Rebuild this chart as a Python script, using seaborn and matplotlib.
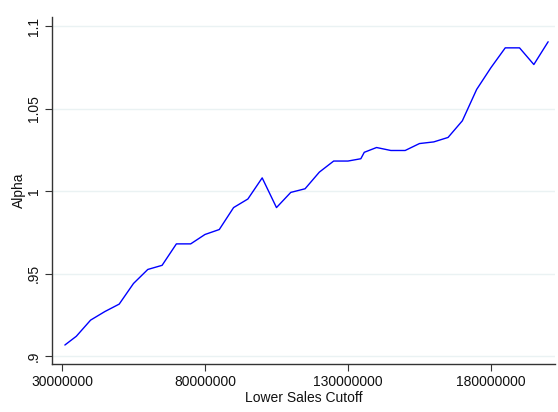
import matplotlib
matplotlib.use("Agg")
import matplotlib.pyplot as plt
import seaborn as sns
import pandas as pd
from matplotlib.ticker import FixedLocator, FixedFormatter

# Lower sales cutoff (millions) and estimated alpha
cutoff_m = [31, 35, 40, 45, 50, 55, 60, 65, 70, 75, 80, 85, 90, 95, 100,
            105, 110, 115, 120, 125, 130, 134.5, 135.7, 140, 145, 150, 155,
            160, 165, 170, 175, 180, 185, 190, 195, 200]
alpha = [0.9067, 0.912, 0.9218, 0.927, 0.9315, 0.944, 0.9525, 0.955, 0.968,
         0.968, 0.9737, 0.9767, 0.990, 0.9952, 1.008, 0.990, 0.9992, 1.0014,
         1.0115, 1.0182, 1.0182, 1.0196, 1.0235, 1.0264, 1.0246, 1.0246,
         1.0288, 1.0298, 1.0325, 1.0426, 1.0616, 1.0748, 1.0868, 1.0868,
         1.0767, 1.0905]

x_ticks = [30000000, 80000000, 130000000, 180000000]
x_labels = ["30000000", "80000000", "130000000", "180000000"]
y_ticks = [0.9, 0.95, 1.0, 1.05, 1.1]
y_labels = [".9", ".95", "1", "1.05", "1.1"]

df = pd.DataFrame({"cutoff": [c * 1e6 for c in cutoff_m], "alpha": alpha})

sns.set_style("white")
plt.rcParams["font.family"] = ["Liberation Sans", "DejaVu Sans"]
plt.rcParams["text.color"] = "#111111"
plt.rcParams["axes.labelcolor"] = "#111111"
plt.rcParams["xtick.color"] = "#111111"
plt.rcParams["ytick.color"] = "#111111"

fig = plt.figure(figsize=(5.58, 4.12), dpi=100)
ax = fig.add_axes([52 / 558, 48 / 412, 503 / 558, 347 / 412])

sns.lineplot(data=df, x="cutoff", y="alpha", ax=ax, color="#0000ff", linewidth=1.0)

ax.set_xlim(26.5e6, 202.4e6)
ax.set_ylim(0.8952, 1.1055)

ax.xaxis.set_major_locator(FixedLocator(x_ticks))
ax.xaxis.set_major_formatter(FixedFormatter(x_labels))
ax.yaxis.set_major_locator(FixedLocator(y_ticks))
ax.yaxis.set_major_formatter(FixedFormatter(y_labels))

ax.grid(axis="y", color="#eaf2f3", linewidth=1.0)
ax.set_axisbelow(True)

for side in ["top", "right"]:
    ax.spines[side].set_visible(False)
for side in ["left", "bottom"]:
    ax.spines[side].set_color("#333333")
    ax.spines[side].set_linewidth(1.0)

ax.tick_params(axis="both", direction="out", length=5, width=0.8, color="#333333",
               labelsize=10, pad=3, bottom=True, left=True)
for lab in ax.get_yticklabels():
    lab.set_rotation(90)
    lab.set_va("center")

ax.set_xlabel("Lower Sales Cutoff", fontsize=10, labelpad=1)
ax.set_ylabel("Alpha", fontsize=10, labelpad=1)

fig.savefig("out.png", dpi=100)
